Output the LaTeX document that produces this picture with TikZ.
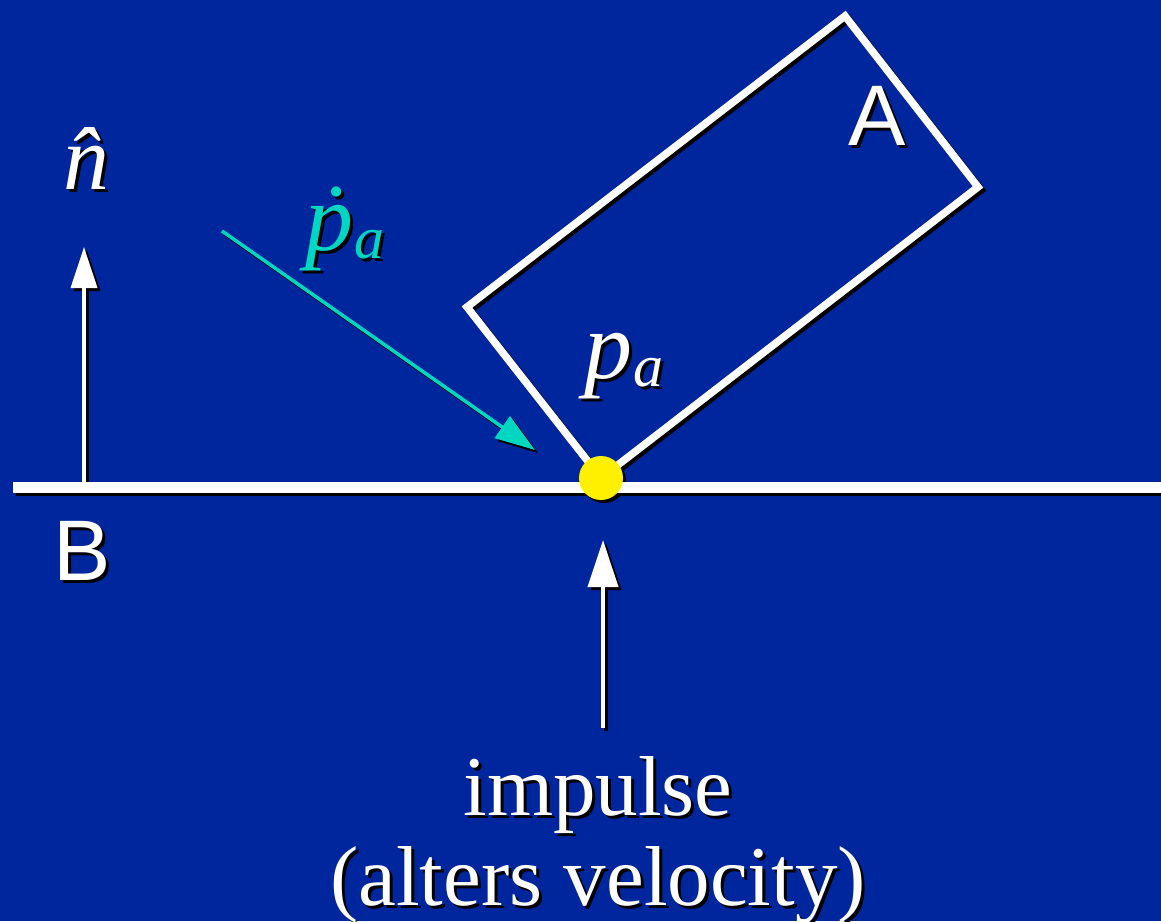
\documentclass[tikz,border=0pt]{standalone}
\usepackage{fontspec}
\setmainfont{Liberation Serif}
\newfontfamily\sansf{Liberation Sans}
\usetikzlibrary{arrows.meta}
\definecolor{bgblue}{RGB}{0,38,158}
\definecolor{tealc}{RGB}{0,214,192}
\definecolor{yellowc}{RGB}{255,240,0}
\colorlet{cW}{white}
\colorlet{cT}{tealc}
\colorlet{cY}{yellowc}
\tikzset{
  boxline/.style={draw=cW, line width=7.5pt, line join=miter},
  groundline/.style={draw=cW, line width=11pt},
  whitearrow/.style={draw=cW, line width=3.5pt, -{Triangle[length=41pt,width=26pt,fill=cW]}},
  bigarrow/.style={draw=cW, line width=4pt, -{Triangle[length=47pt,width=30pt,fill=cW]}},
  tealarrow/.style={draw=cT, line width=3.5pt, -{Triangle[length=40pt,width=26pt,fill=cT]}},
  seriflabel/.style={text=cW, font=\fontsize{85}{90}\selectfont, inner sep=0pt},
  sanslabel/.style={text=cW, font=\sansf\fontsize{86}{90}\selectfont, inner sep=0pt},
}
\newcommand\pasub[1]{{\fontsize{96}{100}\selectfont\itshape #1}\kern1pt\raisebox{-8pt}{\fontsize{60}{62}\selectfont\itshape a}}
\newcommand\drawscene{%
  % ground line B
  \coordinate (gl) at (13,487);
  \coordinate (gr) at (1175,487);
  \draw[groundline] (gl) -- (gr);
  % body A
  \coordinate (ctop) at (845,16);
  \coordinate (cright) at (978,187);
  \coordinate (cbot) at (601,478);
  \coordinate (cleft) at (467,307);
  \draw[boxline] (ctop) -- (cright) -- (cbot) -- (cleft) -- cycle;
  % contact point
  \node[circle, fill=cY, minimum size=44pt, inner sep=0pt] (contact) at (601,478) {};
  % normal arrow
  \coordinate (nb) at (84,482);
  \coordinate (nt) at (84,247);
  \draw[whitearrow] (nb) -- (nt);
  % impulse arrow
  \coordinate (ib) at (603,728);
  \coordinate (it) at (603,540);
  \draw[bigarrow] (ib) -- (it);
  % velocity arrow
  \coordinate (tb) at (222,231);
  \coordinate (tt) at (535,450);
  \draw[tealarrow] (tb) -- (tt);
  % labels
  \node[sanslabel, anchor=base] (labA) at (877,145) {A};
  \node[sanslabel, anchor=base] (labB) at (82,580) {B};
  \node[seriflabel, anchor=base, font=\fontsize{92}{96}\selectfont] (labn) at (86,189) {\itshape\^{n}};
  \node[seriflabel, anchor=base west] (labpa) at (584,378) {\pasub{p}};
  \node[seriflabel, text=cT, anchor=base west] (labpd) at (305,250) {\pasub{\.{p}}};
  \node[seriflabel, anchor=base] (imp1) at (598,815) {impulse};
  \node[seriflabel, anchor=base] (imp2) at (598,905) {(alters velocity)};
}
\begin{document}
\begin{tikzpicture}[x=1pt,y=-1pt]
  \fill[bgblue] (0,0) rectangle (1161,921);
  \useasboundingbox (0,0) rectangle (1161,921);
  \begin{scope}[shift={(3,3)}]
    \colorlet{cW}{black}\colorlet{cT}{black}\colorlet{cY}{black}
    \drawscene
  \end{scope}
  \drawscene
\end{tikzpicture}
\end{document}
